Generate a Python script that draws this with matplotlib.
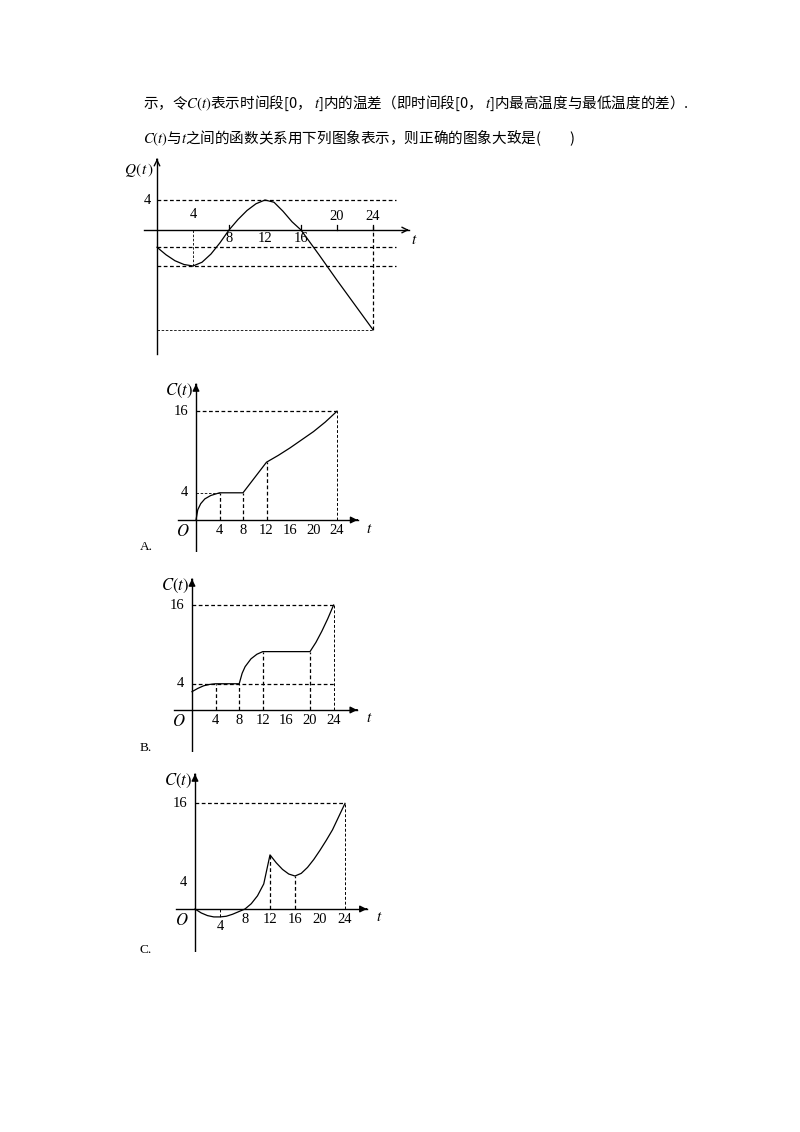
import matplotlib
matplotlib.use("Agg")
import matplotlib.pyplot as plt

plt.rcParams["font.family"] = ["Noto Sans CJK SC", "DejaVu Sans"]
plt.rcParams["mathtext.fontset"] = "stix"

W, H = 800, 1132

line1 = "示，令$C(t)$表示时间段[0， $t$]内的温差（即时间段[0， $t$]内最高温度与最低温度的差）."
line2 = "$C(t)$与$t$之间的函数关系用下列图象表示，则正确的图象大致是(　　)"

# Q(t) curve (drawing units)
q_t = [0, 1, 2, 3, 4, 5, 6, 7, 8, 9, 10, 11, 12, 13, 14, 15, 16, 18, 20, 22, 24]
q_v = [-2.3, -3.3, -4.1, -4.6, -4.8, -4.3, -3.2, -1.7, 0, 1.4, 2.6, 3.5, 4.0, 3.7, 2.5, 1.1, 0, -3.3, -6.7, -10.0, -13.3]
q_low1, q_low2, q_bottom = -2.3, -4.8, -13.3

a_t = [0, 0.3, 0.8, 1.5, 2.5, 4, 8, 12, 14, 16, 18, 20, 22, 24]
a_v = [0, 1.5, 2.4, 3.1, 3.6, 4, 4, 8.5, 9.5, 10.6, 11.8, 13.0, 14.4, 16]

b_t = [0, 1, 2, 3, 4, 8, 8.5, 9, 10, 11, 12, 20, 21, 22, 23, 24]
b_v = [2.8, 3.3, 3.7, 3.9, 4, 4, 5.6, 6.6, 7.8, 8.5, 8.9, 8.9, 10.3, 12.0, 13.9, 16]

c_t = [0, 1, 2, 3, 4, 5, 6, 7, 8, 9, 10, 11, 12, 13, 14, 15, 16, 17, 18, 19, 20, 21, 22, 23, 24]
c_v = [0, -0.6, -1.0, -1.2, -1.2, -1.1, -0.8, -0.4, 0, 0.8, 2.0, 3.8, 8.2, 7.0, 6.0, 5.3, 5.0, 5.4, 6.3, 7.5, 8.9, 10.4, 12.0, 14.0, 16]

fig = plt.figure(figsize=(W / 100, H / 100), dpi=100)
fig.text(143 / W, 1 - 103 / H, line1, fontsize=10.5, va="center")
fig.text(143 / W, 1 - 138 / H, line2, fontsize=10.5, va="center")


def make_axes(ox, oy, sx, sy, left, right, top, bottom):
    ax = fig.add_axes([left / W, 1 - bottom / H, (right - left) / W, (bottom - top) / H])
    ax.set_xlim((left - ox) / sx, (right - ox) / sx)
    ax.set_ylim((oy - bottom) / sy, (oy - top) / sy)
    ax.axis("off")
    return ax


def draw_axes(ax, x0, x1, y0, y1, arrow="open"):
    ax.plot([x0, x1], [0, 0], color="k", lw=1)
    ax.plot([0, 0], [y0, y1], color="k", lw=1)
    style = "->" if arrow == "open" else "-|>"
    ax.annotate("", xy=(x1, 0), xytext=(x1 - 0.5, 0),
                arrowprops=dict(arrowstyle=style, color="k", lw=1, mutation_scale=10))
    ax.annotate("", xy=(0, y1), xytext=(0, y1 - 0.5),
                arrowprops=dict(arrowstyle=style, color="k", lw=1, mutation_scale=10))


dash = dict(color="k", lw=0.9, ls=(0, (3, 2)))
serif = dict(family=["Liberation Serif", "DejaVu Serif"], fontsize=10.5)

# ---- Q(t) ----
ax = make_axes(157, 230, 9.0, 7.5, 110, 430, 150, 360)
draw_axes(ax, -1.5, 28, -16.5, 9.5)
ax.plot(q_t, q_v, color="k", lw=0.9)
ax.plot([0, 26.5], [4, 4], **dash)
ax.plot([0, 26.5], [q_low1, q_low1], **dash)
ax.plot([0, 26.5], [q_low2, q_low2], **dash)
ax.plot([0, 24], [q_bottom, q_bottom], color="k", lw=0.6, ls=(0, (3, 2)))
ax.plot([24, 24], [0.5, q_bottom], **dash)
ax.plot([4, 4], [0, q_low2], color="k", lw=0.6, ls=(0, (3, 2)))
for t in [8, 16, 20, 24]:
    ax.plot([t, t], [0, 0.7], color="k", lw=0.9)
ax.text(4, 1.2, "4", ha="center", va="bottom", **serif)
for t in [20, 24]:
    ax.text(t, 1.0, str(t), ha="center", va="bottom", **serif)
for t in [8, 12, 16]:
    ax.text(t, -0.3, str(t), ha="center", va="top", **serif)
ax.text(-0.7, 4, "4", ha="right", va="center", **serif)
ax.text(-0.3, 6.8, "$Q(\\,t\\,)$", ha="right", va="bottom", fontsize=11)
ax.text(28.2, -1.3, "$t$", ha="left", va="center", fontsize=11)


def c_chart(ox, oy, sx, sy, top, bottom, ts, vs, right_end, ticks, label, label_y, drops):
    ax = make_axes(ox, oy, sx, sy, 120, 380, top, bottom)
    draw_axes(ax, -3, right_end, (oy - bottom) / sy, (oy - top - 6) / sy, arrow="filled")
    ax.plot(ts, vs, color="k", lw=0.9)
    ax.plot([0, 24], [16, 16], **dash)
    ax.plot([24, 24], [0, 16], color="k", lw=0.7, ls=(0, (3, 2)))
    for t, v in drops:
        ax.plot([t, t], [0, v], **dash)
    for t in ticks:
        ax.text(t, -0.6, str(t), ha="center", va="top", **serif)
    ax.text(-1.3, 16, "16", ha="right", va="center", **serif)
    ax.text(-1.3, 4, "4", ha="right", va="center", **serif)
    ax.text(-1.0, -0.4, "$O$", ha="right", va="top", fontsize=12)
    ax.text(-0.5, (oy - top - 4) / sy, "$C(t)$", ha="right", va="top", fontsize=12)
    ax.text(right_end + 1.5, -1.2, "$t$", ha="left", va="center", fontsize=11)
    fig.text(140 / W, 1 - label_y / H, label, fontsize=9.5,
             family=["Liberation Serif", "DejaVu Serif"], va="center")
    return ax


ax = c_chart(196, 520, 5.875, 6.8, 378, 552, a_t, a_v, 27.5, [4, 8, 12, 16, 20, 24], "A.", 547,
             [(4, 4), (8, 4), (12, 8.5)])
ax.plot([0, 4], [4, 4], color="k", lw=0.6, ls=(0, (3, 2)))

ax = c_chart(192, 710, 5.9, 6.56, 573, 752, b_t, b_v, 28, [4, 8, 12, 16, 20, 24], "B.", 748,
             [(4, 4), (8, 4), (12, 8.9), (20, 8.9)])
ax.plot([0, 24], [4, 4], **dash)

ax = c_chart(195, 909, 6.25, 6.6, 768, 952, c_t, c_v, 27.5, [8, 12, 16, 20, 24], "C.", 950,
             [(12, 8.2), (16, 5.0)])
ax.plot([4, 4], [0, -1.2], color="k", lw=0.7, ls=(0, (3, 2)))
ax.text(4, -1.6, "4", ha="center", va="top", **serif)

fig.savefig("out.png", dpi=100, facecolor="white")
